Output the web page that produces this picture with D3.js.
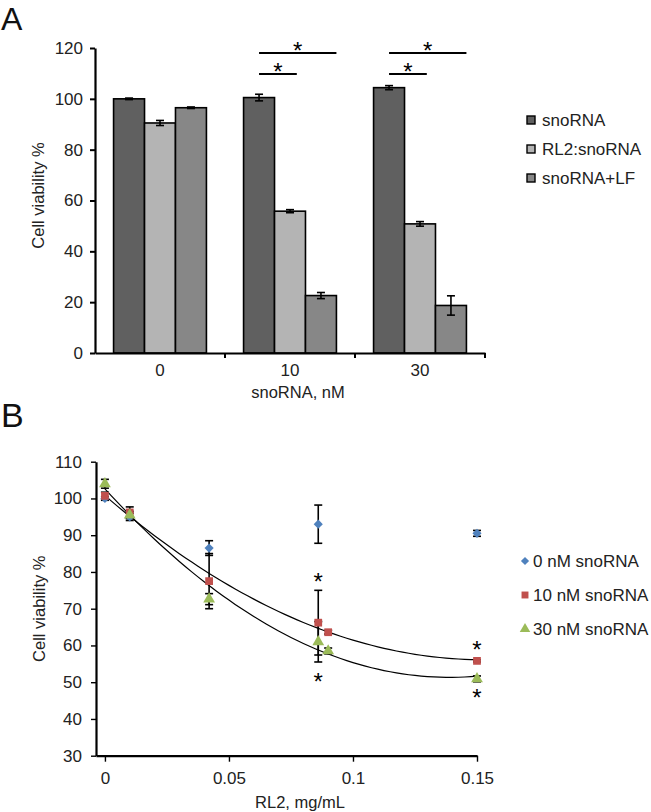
<!DOCTYPE html>
<html>
<head>
<meta charset="utf-8">
<script src="https://cdn.jsdelivr.net/npm/d3@7"></script>
<style>
  body { margin: 0; background: white; }
  svg { font-family: "Liberation Sans", Arial, sans-serif; }
</style>
</head>
<body>
<div id="chart"></div>
<script>
// ---- panel A data ----
const groupsA = ["0", "10", "30"];
const seriesA = ["snoRNA", "RL2:snoRNA", "snoRNA+LF"];
const colorsA = ["#606060", "#b4b4b4", "#878787"];
const valuesA = [
  [100, 90.5, 96.5],
  [100.5, 55.8, 22.6],
  [104.4, 50.8, 18.7]
];
const errorsA = [
  [0.3, 1.0, 0.3],
  [1.3, 0.6, 1.2],
  [0.8, 0.9, 3.8]
];
// significance brackets: group, from series, to series, row (0 = lower)
const sigA = [
  {g: "10", from: 0, to: 1, row: 0},
  {g: "10", from: 0, to: 2, row: 1},
  {g: "30", from: 0, to: 1, row: 0},
  {g: "30", from: 0, to: 2, row: 1}
];
const yTicksA = [0, 20, 40, 60, 80, 100, 120];

// ---- panel B data ----
const seriesB = ["0 nM snoRNA", "10 nM snoRNA", "30 nM snoRNA"];
const colorsB = ["#4f81bd", "#c0504d", "#9bbb59"];
const xB = [
  [0, 0.01, 0.042, 0.086, 0.15],
  [0, 0.01, 0.042, 0.086, 0.09, 0.15],
  [0, 0.01, 0.042, 0.086, 0.09, 0.15]
];
const valuesB = [
  [100, 95, 86.5, 93, 90.5],
  [100.7, 96.2, 77.5, 66.2, 63.6, 55.8],
  [104, 95.5, 72.6, 61, 58.5, 50.9]
];
const errorsB = [
  [0.5, 1, 2, 5.2, 0.8],
  [1, 1.5, 7.5, 8.8, 0.5, 0.3],
  [1.2, 1, 1.5, 5.5, 0.8, 0.8]
];
const fitSeriesB = [1, 2]; // polynomial trendlines drawn for these
const starsB = [
  {x: 0.086, y: 78}, {x: 0.086, y: 51},
  {x: 0.15, y: 59.5}, {x: 0.15, y: 46.5}
];
const xTicksB = [0, 0.05, 0.1, 0.15];
const yTicksB = [30, 40, 50, 60, 70, 80, 90, 100, 110];

const width = 651, height = 812;

const svg = d3.select("#chart").append("svg")
  .attr("width", width)
  .attr("height", height)
  .style("background-color", "white");

const tickFont = "17px", titleFont = "16.5px", legFont = "17px";

// ================= Panel A =================
svg.append("text").attr("x", 1).attr("y", 30)
  .style("font-size", "32px").attr("fill", "#111").text("A");

const xA = d3.scaleBand().domain(groupsA).range([95, 485]);
const xInA = d3.scaleBand().domain(d3.range(seriesA.length))
  .range([0, xA.bandwidth()]).paddingOuter(0.6);
const yA = d3.scaleLinear().domain([0, 120]).range([353, 48]);

const gA = svg.append("g");

const barData = [];
groupsA.forEach((g, gi) => seriesA.forEach((s, si) => {
  barData.push({g, si, v: valuesA[gi][si], e: errorsA[gi][si]});
}));

gA.selectAll("rect.bar").data(barData).enter().append("rect")
  .attr("x", d => xA(d.g) + xInA(d.si))
  .attr("y", d => yA(d.v))
  .attr("width", xInA.bandwidth())
  .attr("height", d => yA(0) - yA(d.v))
  .attr("fill", d => colorsA[d.si])
  .attr("stroke", "black")
  .attr("stroke-width", 1.6);

// error bars
const errA = gA.selectAll("g.err").data(barData).enter().append("g")
  .attr("stroke", "black").attr("stroke-width", 1.6);
const cx = d => xA(d.g) + xInA(d.si) + xInA.bandwidth() / 2;
errA.append("line")
  .attr("x1", cx).attr("x2", cx)
  .attr("y1", d => yA(d.v + d.e)).attr("y2", d => yA(d.v - d.e));
[1, -1].forEach(sign => {
  errA.append("line")
    .attr("x1", d => cx(d) - 4).attr("x2", d => cx(d) + 4)
    .attr("y1", d => yA(d.v + sign * d.e)).attr("y2", d => yA(d.v + sign * d.e));
});

// axes
const yAxisA = gA.append("g").attr("transform", "translate(95,0)")
  .call(d3.axisLeft(yA).tickValues(yTicksA).tickSize(5).tickSizeOuter(0));
const xAxisA = gA.append("g").attr("transform", `translate(0,${yA(0)})`)
  .call(d3.axisBottom(xA).tickSize(0).tickSizeOuter(0));
// boundary ticks between categories
gA.selectAll("line.bt").data(groupsA).enter().append("line")
  .attr("x1", d => xA(d) + xA.bandwidth()).attr("x2", d => xA(d) + xA.bandwidth())
  .attr("y1", yA(0)).attr("y2", yA(0) + 5)
  .attr("stroke", "black").attr("stroke-width", 2);

[yAxisA, xAxisA].forEach(ax => {
  ax.select(".domain").attr("stroke-width", 2.2);
  ax.selectAll(".tick line").attr("stroke-width", 2);
  ax.selectAll("text").style("font-size", tickFont).attr("fill", "#222")
    .style("font-family", "Liberation Sans, Arial, sans-serif");
});
yAxisA.selectAll("text").attr("x", -12);
xAxisA.selectAll("text").attr("y", 11);

gA.append("text")
  .attr("transform", `translate(44,${(yA(0) + yA(120)) / 2 - 5}) rotate(-90)`)
  .attr("text-anchor", "middle").style("font-size", titleFont).attr("fill", "#222")
  .text("Cell viability %");
gA.append("text").attr("x", 298).attr("y", 398)
  .attr("text-anchor", "middle").style("font-size", titleFont).attr("fill", "#222")
  .text("snoRNA, nM");

// significance brackets
const sigY = d3.scaleOrdinal().domain([0, 1]).range([74, 53]);
sigA.forEach(s => {
  const x1 = xA(s.g) + xInA(s.from) + xInA.bandwidth() / 2;
  const x2 = s.row === 0 ? xA(s.g) + xInA(s.to) + xInA.bandwidth() * 0.72
                         : xA(s.g) + xInA(s.to) + xInA.bandwidth();
  gA.append("line").attr("x1", x1).attr("x2", x2)
    .attr("y1", sigY(s.row)).attr("y2", sigY(s.row))
    .attr("stroke", "black").attr("stroke-width", 2);
  gA.append("text").attr("x", (x1 + x2) / 2).attr("y", sigY(s.row) + 6)
    .attr("text-anchor", "middle").style("font-size", "24px").text("*");
});

// legend A
const legA = gA.selectAll("g.leg").data(seriesA).enter().append("g")
  .attr("transform", (d, i) => `translate(527,${120 + i * 29})`);
legA.append("rect").attr("x", 0).attr("y", -4).attr("width", 8).attr("height", 8)
  .attr("fill", (d, i) => colorsA[i]).attr("stroke", "black").attr("stroke-width", 1.4);
legA.append("text").attr("x", 15).attr("y", 6)
  .style("font-size", legFont).attr("fill", "#222").text(d => d);

// ================= Panel B =================
svg.append("text").attr("x", 1).attr("y", 427)
  .style("font-size", "34px").attr("fill", "#111").text("B");

const xBs = d3.scaleLinear().domain([-0.0036, 0.15]).range([96, 477]);
const yBs = d3.scaleLinear().domain([30, 110]).range([755.7, 461.7]);
const gB = svg.append("g");

const yAxisB = gB.append("g").attr("transform", "translate(96,0)")
  .call(d3.axisLeft(yBs).tickValues(yTicksB).tickSize(5).tickSizeOuter(0));
const xAxisB = gB.append("g").attr("transform", `translate(0,${yBs(30)})`)
  .call(d3.axisBottom(xBs).tickValues(xTicksB).tickFormat(d => String(d))
    .tickSize(6).tickSizeOuter(0));
[yAxisB, xAxisB].forEach(ax => {
  ax.select(".domain").attr("stroke-width", 2.2);
  ax.selectAll(".tick line").attr("stroke-width", 1.4);
  ax.selectAll("text").style("font-size", tickFont).attr("fill", "#222")
    .style("font-family", "Liberation Sans, Arial, sans-serif");
});
yAxisB.selectAll("text").attr("x", -14);
xAxisB.selectAll("text").attr("y", 16);

gB.append("text")
  .attr("transform", `translate(45,${(yBs(30) + yBs(110)) / 2}) rotate(-90)`)
  .attr("text-anchor", "middle").style("font-size", titleFont).attr("fill", "#222")
  .text("Cell viability %");
gB.append("text").attr("x", 300).attr("y", 808)
  .attr("text-anchor", "middle").style("font-size", titleFont).attr("fill", "#222")
  .text("RL2, mg/mL");

// quadratic least-squares trendline
function quadFit(xs, ys) {
  const n = xs.length;
  let s = [0, 0, 0, 0, 0], t = [0, 0, 0];
  for (let i = 0; i < n; i++) {
    for (let k = 0; k < 5; k++) s[k] += Math.pow(xs[i], k);
    for (let k = 0; k < 3; k++) t[k] += ys[i] * Math.pow(xs[i], k);
  }
  const M = [[s[0], s[1], s[2], t[0]], [s[1], s[2], s[3], t[1]], [s[2], s[3], s[4], t[2]]];
  for (let i = 0; i < 3; i++) {
    for (let j = i + 1; j < 3; j++) {
      const f = M[j][i] / M[i][i];
      for (let k = i; k < 4; k++) M[j][k] -= f * M[i][k];
    }
  }
  const c = [0, 0, 0];
  for (let i = 2; i >= 0; i--) {
    let v = M[i][3];
    for (let k = i + 1; k < 3; k++) v -= M[i][k] * c[k];
    c[i] = v / M[i][i];
  }
  return x => c[0] + c[1] * x + c[2] * x * x;
}
const line = d3.line().x(d => xBs(d[0])).y(d => yBs(d[1]));
fitSeriesB.forEach(si => {
  const f = quadFit(xB[si], valuesB[si]);
  const xs = d3.range(0, 0.1501, 0.0025);
  gB.append("path").datum(xs.map(x => [x, f(x)]))
    .attr("d", line).attr("fill", "none").attr("stroke", "black").attr("stroke-width", 1.2);
});

// error bars B
seriesB.forEach((s, si) => {
  xB[si].forEach((x, i) => {
    const v = valuesB[si][i], e = errorsB[si][i];
    const px = xBs(x);
    gB.append("line").attr("x1", px).attr("x2", px)
      .attr("y1", yBs(v + e)).attr("y2", yBs(v - e))
      .attr("stroke", "black").attr("stroke-width", 1.6);
    [v + e, v - e].forEach(yy => {
      gB.append("line").attr("x1", px - 4).attr("x2", px + 4)
        .attr("y1", yBs(yy)).attr("y2", yBs(yy))
        .attr("stroke", "black").attr("stroke-width", 1.6);
    });
  });
});

// markers (diamond = rotated square, like the spreadsheet marker)
const symbolsB = [d3.symbolSquare, d3.symbolSquare, d3.symbolTriangle];
const rotB = [45, 0, 0];
const sizesB = [42, 60, 60];
seriesB.forEach((s, si) => {
  gB.selectAll(null).data(xB[si].map((x, i) => [x, valuesB[si][i]])).enter()
    .append("path")
    .attr("transform", d => `translate(${xBs(d[0])},${yBs(d[1])}) rotate(${rotB[si]})`)
    .attr("d", d3.symbol().type(symbolsB[si]).size(sizesB[si]))
    .attr("fill", colorsB[si]);
});

// stars B
gB.selectAll("text.star").data(starsB).enter().append("text")
  .attr("x", d => xBs(d.x)).attr("y", d => yBs(d.y) + 11)
  .attr("text-anchor", "middle").style("font-size", "24px").text("*");

// legend B
const legB = gB.selectAll("g.legb").data(seriesB).enter().append("g")
  .attr("transform", (d, i) => `translate(525,${561 + i * 34})`);
legB.append("path")
  .attr("transform", (d, i) => `rotate(${rotB[i]})`)
  .attr("d", (d, i) => d3.symbol().type(symbolsB[i]).size(sizesB[i] * 0.8)())
  .attr("fill", (d, i) => colorsB[i]);
legB.append("text").attr("x", 8).attr("y", 6)
  .style("font-size", legFont).attr("fill", "#222").text(d => d);
</script>
</body>
</html>
